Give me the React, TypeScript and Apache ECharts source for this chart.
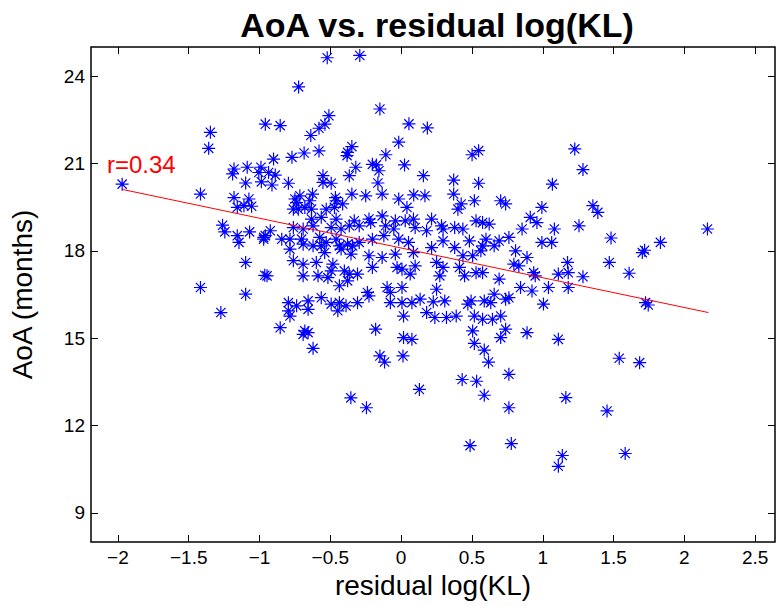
import React, { useEffect, useRef } from "react";
import * as echarts from "echarts";

// [residual log(KL), AoA (months)]
const points: [number, number][] = [
  [-1.347, 22.07], [-1.359, 21.52], [-1.97, 20.29], [-1.417, 19.95], [-1.18, 20.81], [-1.19, 20.64], [-1.087, 20.87],
  [-1.005, 20.69], [-0.99, 20.87], [-1.098, 20.33], [-0.987, 20.37], [-1.18, 19.83], [-1.075, 19.78],
  [-0.522, 24.63], [-0.292, 24.71], [-0.724, 23.63], [-0.15, 22.87], [-0.51, 22.64], [-0.538, 22.35], [-0.58, 22.21],
  [-0.638, 21.96], [-0.959, 22.35], [-0.854, 22.3], [0.055, 22.36], [-0.017, 21.73], [-0.901, 21.15], [-0.771, 21.21],
  [-0.685, 21.36], [-0.58, 21.43], [-0.378, 21.38], [-0.348, 21.58], [-0.382, 21.27], [-0.108, 21.3], [0.024, 20.95],
  [-0.32, 20.87], [-0.203, 20.97], [-0.175, 20.95], [-0.157, 20.75], [-0.164, 20.33], [-0.134, 19.95], [-0.366, 20.58],
  [-0.552, 20.58], [-0.552, 20.35], [-0.494, 20.32], [-0.796, 20.32], [-0.936, 20.69], [-0.889, 20.6], [-0.912, 20.26],
  [-0.715, 19.89], [-0.626, 19.95], [-0.464, 19.83], [-0.348, 19.95], [-0.25, 19.89], [-0.017, 19.78], [0.089, 19.92],
  [-0.75, 19.78],
  [0.185, 22.22], [0.501, 21.3], [0.547, 21.44], [0.157, 20.58], [0.371, 20.43], [0.547, 20.32], [1.068, 20.29],
  [0.168, 19.89], [0.371, 19.95], [0.517, 19.72], [0.703, 19.72], [1.226, 21.5], [1.284, 20.79],
  [-1.157, 19.49], [-1.11, 19.55], [-1.056, 19.53], [-1.261, 18.88], [-1.245, 18.65], [-1.157, 18.52], [-1.145, 18.29],
  [-1.07, 18.65], [-0.97, 18.46], [-1.098, 17.6], [-0.963, 17.16], [-1.417, 16.74], [-1.098, 16.51], [-1.273, 15.88],
  [-0.738, 19.66], [-0.726, 19.43], [-0.645, 19.72], [-0.68, 19.49], [-0.761, 19.43], [-0.633, 19.43], [-0.459, 19.72],
  [-0.471, 19.49], [-0.413, 19.61], [0.041, 19.49], [-0.529, 19.43],
  [-0.633, 19.09], [-0.564, 19.15], [-0.459, 19.09], [-0.331, 19.03], [-0.227, 19.09], [-0.134, 19.2], [-0.041, 19.03],
  [0.029, 19.03], [0.087, 19.09], [-0.761, 18.8], [-0.692, 18.75], [-0.622, 18.86], [-0.494, 18.8], [-0.424, 18.75],
  [-0.366, 18.86], [-0.296, 18.86], [-0.215, 18.97], [-0.11, 18.86], [-0.052, 18.75], [0.099, 18.8],
  [-0.959, 18.52], [-0.924, 18.69], [-0.971, 18.4], [-0.843, 18.4], [-0.785, 18.4], [-0.703, 18.4], [-0.692, 18.23],
  [-0.575, 18.46], [-0.529, 18.29], [-0.459, 18.4], [-0.378, 18.23], [-0.343, 18.17], [-0.296, 18.29], [-0.203, 18.4],
  [-0.122, 18.52], [-0.017, 18.4], [0.052, 18.29], [-0.564, 18.17], [-0.436, 18.17], [-0.622, 18.17],
  [-0.785, 18.06], [-0.761, 17.66], [-0.692, 17.54], [-0.599, 17.6], [-0.54, 17.94], [-0.482, 17.54], [-0.354, 17.89],
  [-0.227, 17.83], [-0.134, 17.77], [-0.041, 17.89], [0.087, 17.94], [-0.424, 18.06],
  [-0.947, 17.14], [-0.692, 17.14], [-0.587, 17.14], [-0.517, 17.08], [-0.494, 17.31], [-0.401, 17.31], [-0.366, 17.2],
  [-0.308, 17.2], [-0.203, 17.43], [-0.029, 17.43], [0.006, 17.37], [0.064, 17.2], [0.099, 17.48], [-0.436, 16.8],
  [-0.378, 16.97],
  [-0.238, 16.57], [-0.227, 16.45], [-0.099, 16.74], [-0.076, 16.57], [0.006, 16.74], [-0.564, 16.39], [-0.657, 16.28],
  [-0.796, 16.22], [-0.738, 16.11], [-0.657, 15.99], [-0.494, 16.17], [-0.436, 16.22], [-0.389, 16.11], [-0.308, 16.22],
  [-0.076, 16.22], [0.006, 16.22], [0.076, 16.22], [-0.447, 15.94],
  [-0.796, 15.94], [-0.785, 15.76], [0.017, 15.76], [-0.854, 15.36], [-0.68, 15.25], [-0.657, 15.19], [-0.692, 15.13],
  [-0.18, 15.31], [0.017, 15.02], [0.076, 14.96],
  [0.424, 19.61], [0.401, 19.43], [0.738, 19.61], [0.994, 19.49], [0.215, 19.09], [0.285, 18.86], [0.296, 18.75],
  [0.378, 18.8], [0.436, 18.75], [0.529, 19.03], [0.575, 18.97], [0.622, 18.92], [0.912, 19.15], [0.959, 18.97],
  [0.854, 18.75], [1.082, 18.75], [0.18, 18.69],
  [0.296, 18.34], [0.378, 18.11], [0.482, 18.34], [0.575, 18.17], [0.599, 18.4], [0.657, 18.17], [0.692, 18.34],
  [0.761, 18.46], [0.808, 18.0], [0.889, 17.77], [0.994, 18.29], [1.063, 18.29], [0.215, 18.11], [0.436, 17.83],
  [0.505, 17.83], [0.563, 18.0],
  [0.25, 17.6], [0.296, 17.43], [0.273, 17.14], [0.412, 17.43], [0.448, 17.14], [0.529, 17.25], [0.575, 17.25],
  [0.796, 17.54], [0.831, 17.48], [0.692, 17.03], [0.936, 17.25], [0.947, 17.14], [1.11, 17.2], [1.175, 17.6],
  [1.18, 17.25],
  [0.25, 16.68], [0.843, 16.74], [0.924, 16.62], [1.04, 16.74], [0.134, 16.34], [0.227, 16.25], [0.308, 16.28],
  [0.494, 16.28], [0.587, 16.28], [0.633, 16.22], [0.657, 16.51], [0.738, 16.34], [0.761, 16.39], [1.005, 16.17],
  [0.471, 16.17],
  [0.18, 15.88], [0.238, 15.71], [0.32, 15.71], [0.389, 15.76], [0.517, 15.76], [0.575, 15.65], [0.645, 15.65],
  [0.703, 15.76], [0.505, 15.25], [0.738, 15.31], [0.889, 15.19], [0.703, 15.02], [1.11, 14.96],
  [1.354, 19.55], [1.389, 19.32], [1.256, 18.86], [2.163, 18.75], [1.482, 18.44], [1.831, 18.29], [1.703, 17.94],
  [1.719, 18.02], [1.47, 17.6], [1.61, 17.23], [1.284, 17.11], [1.18, 16.74], [1.726, 16.22], [1.745, 16.14],
  [-0.622, 14.65], [-0.15, 14.39], [-0.117, 14.18], [0.013, 14.39], [0.129, 13.24], [-0.355, 12.95], [-0.245, 12.61],
  [0.517, 14.82], [0.587, 14.59], [0.617, 14.18], [1.54, 14.31], [1.684, 14.16], [0.431, 13.58], [0.533, 13.52],
  [0.761, 13.76], [0.587, 13.04], [1.163, 12.96], [0.761, 12.61], [1.454, 12.5], [0.487, 11.31], [0.778, 11.38],
  [1.138, 10.97], [1.11, 10.6], [1.582, 11.04],
];

// least-squares fit line end points
const fitX = [-1.97, 2.17];
const fitY = [20.11, 15.88];
const rLabel = "r=0.34";

const xTicks = [-2, -1.5, -1, -0.5, 0, 0.5, 1, 1.5, 2, 2.5];
const yTicks = [9, 12, 15, 18, 21, 24];
const xRange = [-2.19, 2.64];
const yRange = [8, 25];

const STAR = "path://M0,-7L0,7M-7,0L7,0M-5,-5L5,5M-5,5L5,-5";
const FONT = "Liberation Sans, Arial, Helvetica, sans-serif";

export default function App() {
  const ref = useRef<HTMLDivElement>(null);
  useEffect(() => {
    if (!ref.current) return;
    document.body.style.margin = "0";
    const chart = echarts.init(ref.current, undefined, { renderer: "svg" });
    const tick = { show: true, inside: true, length: 7, lineStyle: { color: "#000", width: 1 } };
    const noLine = { show: false, onZero: false };
    chart.setOption({
      animation: false,
      backgroundColor: "#fff",
      title: {
        text: "AoA vs. residual log(KL)",
        left: 432,
        top: 3,
        textAlign: "center",
        textStyle: { fontFamily: FONT, fontWeight: "bold", fontSize: 34, color: "#000" },
      },
      grid: {
        left: 82,
        right: 2,
        top: 47,
        bottom: 64,
        containLabel: false,
        show: true,
        borderColor: "#000",
        borderWidth: 1.5,
        backgroundColor: "#fff",
      },
      xAxis: [
        {
          type: "value",
          position: "bottom",
          min: xRange[0],
          max: xRange[1],
          name: "residual log(KL)",
          nameLocation: "middle",
          nameGap: 29,
          nameTextStyle: { fontFamily: FONT, fontSize: 28, color: "#000" },
          axisLine: noLine,
          splitLine: { show: false },
          axisTick: { ...tick, customValues: xTicks },
          axisLabel: {
            customValues: xTicks,
            fontFamily: FONT,
            fontSize: 19,
            color: "#000",
            margin: 6,
            formatter: (v: number) => String(v).replace("-", "\u2212"),
          },
        },
        {
          type: "value",
          position: "top",
          min: xRange[0],
          max: xRange[1],
          axisLine: noLine,
          splitLine: { show: false },
          axisTick: { ...tick, customValues: xTicks },
          axisLabel: { show: false },
        },
      ],
      yAxis: [
        {
          type: "value",
          position: "left",
          min: yRange[0],
          max: yRange[1],
          name: "AoA (months)",
          nameLocation: "middle",
          nameGap: 55,
          nameRotate: 90,
          nameTextStyle: { fontFamily: FONT, fontSize: 28, color: "#000" },
          axisLine: noLine,
          splitLine: { show: false },
          axisTick: { ...tick, customValues: yTicks },
          axisLabel: { customValues: yTicks, fontFamily: FONT, fontSize: 19, color: "#000", margin: 6 },
        },
        {
          type: "value",
          position: "right",
          min: yRange[0],
          max: yRange[1],
          axisLine: noLine,
          splitLine: { show: false },
          axisTick: { ...tick, customValues: yTicks },
          axisLabel: { show: false },
        },
      ],
      graphic: [
        {
          type: "text",
          left: 107,
          top: 152,
          style: { text: rLabel, fill: "#ff0000", fontFamily: FONT, fontSize: 24 },
          z: 10,
        },
      ],
      series: [
        {
          type: "scatter",
          xAxisIndex: 0,
          yAxisIndex: 0,
          data: points,
          symbol: STAR,
          symbolSize: 13,
          itemStyle: { color: "rgba(0,0,0,0)", borderColor: "#0000ff", borderWidth: 1.2, opacity: 1 },
          emphasis: { disabled: true },
        },
        {
          type: "line",
          xAxisIndex: 0,
          yAxisIndex: 0,
          data: fitX.map((x, i) => [x, fitY[i]]),
          symbol: "none",
          lineStyle: { color: "#ff0000", width: 1 },
          emphasis: { disabled: true },
        },
      ],
    });
    return () => chart.dispose();
  }, []);
  return <div ref={ref} style={{ width: 777, height: 606 }} />;
}
